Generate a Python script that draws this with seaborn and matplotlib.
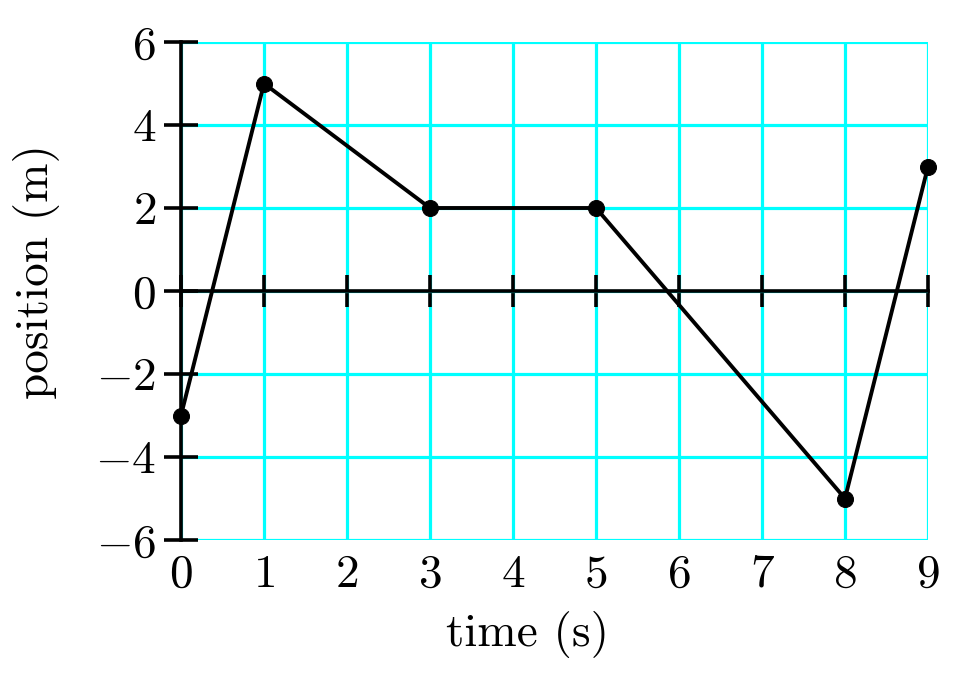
import matplotlib
matplotlib.use('Agg')
import pandas as pd
import seaborn as sns
import matplotlib.pyplot as plt

# data
time_s = [0, 1, 3, 5, 8, 9]
position_m = [-3, 5, 2, 2, -5, 3]
x_ticks = [0, 1, 2, 3, 4, 5, 6, 7, 8, 9]
y_ticks = [-6, -4, -2, 0, 2, 4, 6]

df = pd.DataFrame({'time': time_s, 'position': position_m})

sns.set_style('white')
plt.rcParams['font.family'] = ['cmr10', 'DejaVu Serif']
plt.rcParams['mathtext.fontset'] = 'cm'
plt.rcParams['axes.formatter.use_mathtext'] = True
plt.rcParams['text.color'] = 'black'
plt.rcParams['xtick.color'] = 'black'
plt.rcParams['ytick.color'] = 'black'

fs = 34

fig = plt.figure(figsize=(9.59, 6.84), dpi=100)
ax = fig.add_axes([181 / 959, 1 - 540 / 684, 747 / 959, 498 / 684])

ax.set_xlim(0, 9)
ax.set_ylim(-6, 6)
ax.set_xticks(x_ticks)
ax.set_yticks(y_ticks)
ax.grid(True, color='#00ffff', linewidth=2.3, zorder=0)
ax.set_axisbelow(True)

sns.lineplot(data=df, x='time', y='position', color='black', linewidth=2.8,
             marker='o', markersize=11.5, markeredgecolor='black', ax=ax,
             clip_on=False, zorder=5)

# spines: y axis on the left, x axis through zero
for s in ['top', 'right']:
    ax.spines[s].set_visible(False)
ax.spines['bottom'].set_position(('data', 0))
for s in ['bottom', 'left']:
    ax.spines[s].set_linewidth(2.6)
    ax.spines[s].set_color('black')
    ax.spines[s].set_zorder(3)

ax.tick_params(axis='x', bottom=True, direction='inout', length=23, width=2.6,
               labelbottom=False, color='black')
ax.tick_params(axis='y', left=True, direction='inout', length=24, width=2.6,
               labelsize=fs, pad=6, color='black', labelcolor='black')
ax.set_yticklabels([f'${v}$' for v in y_ticks])

# x tick labels along the bottom edge
sec = ax.secondary_xaxis(location=0)
sec.set_xticks(x_ticks)
sec.set_xticklabels([f'${v}$' for v in x_ticks])
sec.tick_params(bottom=True, length=0, labelsize=fs, pad=10, labelcolor='black')
for s in sec.spines.values():
    s.set_visible(False)

ax.set_xlabel('')
ax.set_ylabel('')
fig.text(527 / 959, 1 - 635 / 684, 'time (s)', fontsize=fs, ha='center', va='center')
fig.text(37 / 959, 1 - 272 / 684, 'position (m)', fontsize=fs, ha='center',
         va='center', rotation=90)

fig.savefig('out.png', dpi=100)
